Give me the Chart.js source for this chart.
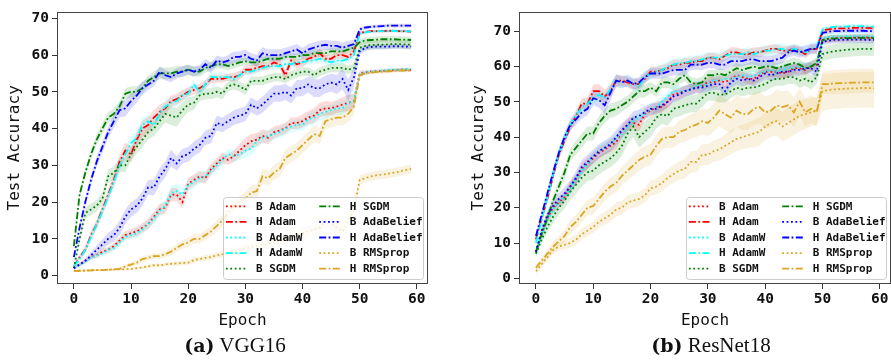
<!DOCTYPE html>
<html>
<head>
<meta charset="utf-8">
<script src="https://cdn.jsdelivr.net/npm/chart.js@4.4.0/dist/chart.umd.min.js"></script>
<style>
  html, body { margin: 0; padding: 0; background: #fff; }
  #wrap { position: relative; width: 891px; height: 361px; overflow: hidden; }
  canvas { position: absolute; top: 0; }
  .cap { position: absolute; top: 335px; font-family: "Liberation Serif", serif; font-size: 21px;
         line-height: 1; white-space: nowrap; transform: translateX(-50%); color: #111; }
  .cap b { font-family: "DejaVu Serif", serif; font-size: 19px; }
</style>
</head>
<body>
<div id="wrap">
  <canvas id="vgg" width="445" height="335" style="left:0"></canvas>
  <canvas id="resnet" width="446" height="335" style="left:445px"></canvas>
  <div class="cap" style="left:235px"><b>(a)</b> VGG16</div>
  <div class="cap" style="left:711px"><b>(b)</b> ResNet18</div>
</div>
<script>
// Series / ticks
const epochs = [0,1,2,3,4,5,6,7,8,9,10,11,12,13,14,15,16,17,18,19,20,21,22,23,24,25,26,27,28,29,
  30,31,32,33,34,35,36,37,38,39,40,41,42,43,44,45,46,47,48,49,50,51,52,53,54,55,56,57,58,59];
const xTicks = [0, 10, 20, 30, 40, 50, 60];
const yTicks = [0, 10, 20, 30, 40, 50, 60, 70];
const seriesLabels = ['B Adam', 'H Adam', 'B AdamW', 'H AdamW', 'B SGDM',
  'H SGDM', 'B AdaBelief', 'H AdaBelief', 'B RMSprop', 'H RMSprop'];
const seriesColors = ['#ff0000', '#ff0000', '#00ffff', '#00ffff', '#008000',
  '#008000', '#0000ff', '#0000ff', '#daa520', '#daa520'];

// VGG16 test accuracy (mean)
const vggBAdam = [2,3,4,5,5.5,6.5,7,8,9.5,11, 11.5,12,13,14,16,18,18.5,22,22,20,
  25,26,27,26.5,29,30.5,32,31.5,32.5,34, 35.5,36.5,37,38,37.5,39,39.5,40,41.5,41.5,
  42,43,43.5,45,45.5,45.5,46,46.5,47,47.5, 55,55.3,55.5,55.6,55.7,55.8,55.9,56,56,56];
const vggHAdam = [2.5,5,7,11,14,18,22,26,31,34, 33,37,40,41,43,44.5,45.5,47.5,48,49,
  50,50.5,51,52,53.5,53.5,53.5,54,54,54.5, 56,56,56.5,57,57,58,57.5,54.5,58.5,57.5,
  58,59,59.5,60.5,59,59,60,60,59.5,61, 66,66.3,66.5,66.5,66.5,66.6,66.6,66.5,66.5,66.4];
const vggBAdamW = [2,2.8,3.8,4.8,5.5,6,7,7.5,9,10.5, 11,11.5,12.5,14,15.5,17.5,19,22.5,23,22,
  24.5,25.5,26.5,27,28.5,30,31.5,33,32.5,33, 34,34.5,36.5,37.5,38,38.5,39,40,40.5,41,
  41,42.5,43,44,44.5,45,45.5,45.5,47,47.5, 54.8,55.2,55.5,55.6,55.8,55.9,56,56,56.1,56.2];
const vggHAdamW = [2.5,4.5,7,10.5,14,17.5,21.5,25.5,30,33, 36,37.5,41,42,41,44,46,47,47.5,49,
  49.5,52,50,52,54,54,54,54,53.5,54.5, 55.5,55.5,56,56.5,57,57,57,57.5,57.5,58,
  58,58.5,58.5,59,58.5,58,58.5,58.5,59,60, 65.8,66.2,66.4,66.5,66.5,66.5,66.6,66.5,66.5,66.4];
const vggBSGDM = [2,10,17,18,19,21,27,28,30,30, 33,35,37,39,40,42,44,43.5,43,45,
  46.5,47,49,49.5,49.5,50,49.5,51.5,52,51.5, 50.5,53,53,53,53.5,54,54,53.5,54.5,55,
  55.5,55.5,54.5,55.5,56,56.5,56.5,56.5,56,56.5, 62,62.5,62.7,62.8,62.8,62.9,63,63,62.9,62.8];
const vggHSGDM = [8,22,28,33,37,40,43,44,46,49.5, 50,50,51,53,54,55,55,55,55.5,55.5,
  56,55.5,55.5,56.5,57,57.5,57.5,57,57.5,58, 58.3,58,58,58.5,59,59,59,59.5,59.5,59.5,
  60,60,60.5,60.5,60.5,61,61,61,61.5,62, 63.5,64,64.1,64.2,64.3,64.3,64.3,64.2,64.2,64.1];
const vggBAdaBelief = [2,3,4,5.5,7,8.5,10,11,13,16, 18,19,21,24,24,27,29,32,30.5,32.5,
  33,34.5,35.5,37.5,38,41.5,41,42,43,43.5, 44,46.5,45.5,46.5,48,49.5,49.5,50,49,51,
  51,52,51,51,52,52.5,52,53.5,50.5,54, 61,62,62.2,62.3,62.3,62.3,62.4,62.4,62.3,62.3];
const vggHAdaBelief = [5,13,20,26,31,35,39,42,45,45.5, 47.5,49,51,52,53,55.5,54.5,54,55,55.5,
  56,55.5,56,57.5,56.5,58.5,58,58.5,59.5,59.5, 60,59,58.5,60.5,60,60,60,60.5,61,61.5,
  60.5,61.5,62,62.5,62.8,62.5,62.5,62,62.5,63, 67,67.5,67.7,67.8,67.9,68,68,68,68,68];
const vggBRMSprop = [1.3,1.3,1.4,1.4,1.5,1.5,1.6,1.6,1.7,1.7, 1.8,2,2.2,2.5,2.8,2.8,3,3.2,3.3,3.4,
  3.5,4.2,4.5,4.8,5,5.5,5.8,6.2,6.5,7, 7.5,7.8,8,8.5,8.5,9,9.5,10,10.5,11,
  11.5,12,12.5,13,15,14,13,12,15,18, 26,26.5,27,27.3,27.5,27.7,28,28.3,28.7,29];
const vggHRMSprop = [1.2,1.3,1.3,1.4,1.5,1.5,1.6,1.7,1.8,2.5, 3,3.5,4.5,4.8,5.3,5.3,5.8,6.5,7.5,8.5,
  9,10,10,11,12,13.5,15,17,19,20, 21,22.5,23,27,26.5,28,29,32,33,34,
  35.5,37,38.5,38,42,42.5,43,43,44,46, 54.5,55,55.2,55.4,55.5,55.6,55.7,55.8,55.8,55.8];

// VGG16 spread (std band half width)
const vggBAdamStd = [0.3,0.4,0.5,0.6,0.7,0.8,0.8,0.9,1,1.1, 1.2,1.3,1.3,1.4,1.5,1.5,1.6,1.8,1.8,1.8,
  1.6,1.5,1.5,1.6,1.5,1.5,1.5,1.4,1.6,1.8, 2,2,1.8,1.8,1.8,1.6,1.5,1.5,1.6,1.6,
  1.8,1.8,2,2,2,1.8,1.8,2,2.2,2, 0.8,0.6,0.5,0.5,0.5,0.5,0.5,0.5,0.5,0.5];
const vggHAdamStd = [0.3,0.8,1,1.2,1.3,1.5,1.5,1.8,2,2.2, 2.2,2,2.2,2.2,2,2,1.8,1.5,1.5,1.5,
  1.3,1.2,1.2,1.2,1.2,1,1,1,1.2,1.2, 1.2,1.2,1.2,1.2,1,1,1.2,1.5,1.2,1.2,
  1.2,1,1,1.2,1,1,1,1,1.2,1, 0.5,0.4,0.4,0.4,0.4,0.4,0.4,0.4,0.4,0.4];
const vggBAdamWStd = [0.3,0.4,0.5,0.6,0.7,0.8,0.9,1,1,1.1, 1.2,1.3,1.4,1.4,1.5,1.6,1.7,1.8,2,1.8,
  1.6,1.6,1.5,1.5,1.5,1.6,1.5,1.5,1.5,1.6, 1.8,1.8,1.8,1.6,1.6,1.6,1.5,1.5,1.6,1.6,
  1.6,1.8,1.8,1.8,1.8,1.6,1.8,1.8,2,2, 0.8,0.6,0.5,0.5,0.5,0.5,0.5,0.5,0.5,0.5];
const vggHAdamWStd = [0.3,0.8,1,1.2,1.3,1.5,1.6,1.8,1.8,2, 2,2,1.8,1.8,1.6,1.5,1.5,1.5,1.4,1.3,
  1.3,1.2,1.2,1.2,1.2,1.2,1.1,1,1,1, 1,1,1,1,1,1,1,1,1,1,
  1,1,1,1,1,1,1,1,1,1, 0.5,0.4,0.4,0.4,0.4,0.4,0.4,0.4,0.4,0.4];
const vggBSGDMStd = [0.3,1,1.5,1.6,1.6,1.6,1.8,1.8,1.8,1.8, 1.8,1.8,2,2,2,2.2,2.4,2.5,2.5,2.2,
  2,1.8,1.6,1.5,1.5,1.5,1.5,1.4,1.4,1.4, 1.4,1.2,1.2,1.2,1.2,1.2,1.2,1.2,1.2,1.2,
  1.2,1.2,1.2,1.2,1.2,1.2,1.2,1.2,1.2,1.2, 1.2,1.2,1.2,1.2,1.2,1.2,1.2,1.2,1.2,1.2];
const vggHSGDMStd = [0.5,1,1.2,1.3,1.4,1.5,1.5,1.5,1.5,1.5, 1.5,1.5,1.5,1.5,1.5,1.6,1.6,1.6,1.5,1.5,
  1.4,1.4,1.3,1.3,1.2,1.2,1.2,1.2,1.1,1.1, 1,1,1,1,1,1,1,1,1,1,
  1,1,1,1,1,1,1,1,1,1, 0.9,0.9,0.9,0.9,0.9,0.9,0.9,0.9,0.9,0.9];
const vggBAdaBeliefStd = [0.3,0.5,0.7,1,1.2,1.4,1.6,1.8,2,2, 2,2,2,2,2.2,2.2,2.2,2.2,2,2,
  2,2,2,2,2,2,2,2,2,2, 2,2,2,2.2,2.2,2.2,2.2,2.2,2.2,2.2,
  2.2,2.2,2.4,2.4,2.4,2.5,2.6,2.8,3,2.6, 1,0.8,0.7,0.7,0.7,0.7,0.7,0.7,0.7,0.7];
const vggHAdaBeliefStd = [0.5,1,1.2,1.3,1.4,1.5,1.6,1.8,2,2.2, 2.2,2,1.8,1.6,1.5,1.5,1.4,1.4,1.4,1.4,
  1.3,1.3,1.3,1.4,1.4,1.4,1.4,1.5,1.5,1.5, 1.5,1.5,1.6,1.6,1.6,1.6,1.6,1.5,1.5,1.5,
  1.5,1.5,1.5,1.4,1.4,1.4,1.4,1.4,1.4,1.2, 0.6,0.5,0.5,0.5,0.5,0.5,0.5,0.5,0.5,0.5];
const vggBRMSpropStd = [0.2,0.2,0.2,0.2,0.2,0.2,0.2,0.2,0.2,0.3, 0.3,0.4,0.4,0.5,0.5,0.5,0.5,0.5,0.6,0.6,
  0.6,0.7,0.7,0.8,0.8,0.8,0.9,0.9,1,1, 1,1,1.1,1.1,1.2,1.2,1.2,1.3,1.4,1.4,
  1.5,1.5,1.6,1.6,1.8,1.8,1.8,1.8,2,2, 1.2,1.2,1.2,1.2,1.2,1.2,1.2,1.2,1.2,1.2];
const vggHRMSpropStd = [0.2,0.2,0.2,0.2,0.2,0.2,0.2,0.3,0.3,0.5, 0.6,0.7,0.8,0.8,0.8,0.8,0.9,1,1,1.2,
  1.2,1.3,1.3,1.4,1.4,1.5,1.5,1.6,1.6,1.8, 1.8,2,2,2,2,2,2.2,2.2,2.2,2.2,
  2.2,2.2,2.2,2.2,2.2,2.2,2.2,2.2,2.2,2.2, 0.6,0.5,0.5,0.5,0.5,0.5,0.5,0.5,0.5,0.5];

// ResNet18 test accuracy (mean)
const rnBAdam = [7.5,13,17,20,21.5,23,26,28,31,32.5, 34,35.5,36.5,37.5,38.5,41.5,43.5,44,43.5,46.5,
  47.5,48.5,48.5,50,52,52.5,53,53.5,54,54.5, 55.5,55.5,56,55.5,56.5,57.5,57,56.5,56.5,57.5,
  58.5,58.5,58.5,58,58.5,59.5,59.5,59,60,60.5, 67.5,67.8,68,68,68.1,68.1,68.2,68.2,68.2,68.1];
const rnHAdam = [11,17,22.5,29,35,39,43,46,49.5,49.5, 53,53,51.5,53,56,56,55.5,55,55,56.5,
  58.5,58.5,59,59.5,60.5,60.5,61,61,61.5,61.5, 62.5,62.5,62,63,64,64,63.5,63.5,64,64,
  64.5,65,65,64.5,64.5,65,64.5,63.5,65,65, 70.2,70.5,70.7,70.8,70.8,70.9,70.9,70.9,70.9,70.8];
const rnBAdamW = [7,12.5,16.5,19.5,21.5,23,25.5,28,30.5,32.5, 34.5,36,37,38,39.5,41,43,44.5,45.5,46.5,
  48,48.5,50,51.5,53,53,53,53.5,54.5,54.5, 55,56,56,56.5,56.5,57,57.5,57,57.5,58,
  58.5,59,58.5,59,59.5,59.5,60,59.5,60,61, 68,68.3,68.5,68.5,68.6,68.6,68.6,68.6,68.5,68.5];
const rnHAdamW = [10,16.5,23,29.5,35.5,39.5,43.5,46,48.5,49.5, 51,52,51,53.5,56,55.5,56,55,54.5,57,
  58,58.5,59,60,60.5,61,61,61.5,61.5,62, 62.5,62.5,62.5,63,63.5,63.5,63.5,64,63.5,64,
  64.5,64.5,65,65,64.5,65,64.5,64,65,65.5, 70.5,71,71.2,71.3,71.3,71.4,71.4,71.4,71.3,71.3];
const rnBSGDM = [7,11,14.5,17.5,20,22,24.5,26.5,28.5,30, 30.5,32,33,34,35.5,37.5,41,43,40,41.5,
  43,45.5,46.5,46,48,48.5,49,49.5,49.5,51, 52.5,52.5,52,52,53,54,53.5,54,54,54.5,
  55,56,56.5,56.5,57,57,56,56.5,55.5,57, 63.5,64,64.3,64.5,64.7,64.8,64.9,65,65,65];
const rnHSGDM = [7.5,12.5,17,22,26,30,35,37,39,41, 41,44,46,47.5,48,49,50,51.5,53,53,
  54,53,55.5,55.5,55,56.5,57.5,55.5,55,55.5, 57.5,57.5,58,57.5,58.5,59.5,59,59.5,60,59.5,
  60,60,59.5,60,60.5,61,60.5,59.5,60,61, 67.5,67.8,67.9,68,68,68,68.1,68.1,68.1,68];
const rnBAdaBelief = [7.5,13.5,18,20.5,22.5,24,26,28.5,31.5,33, 34.5,36,37,38,40,42,43.5,45.5,46,47,
  48,48,49,50,51.5,52,53,53.5,54,54, 54.5,55,55,53,55.5,56.5,56,56.5,56,57,
  58,57.5,58,58.5,58.5,59,59,59.5,59.5,58.5, 67,67.3,67.5,67.5,67.6,67.6,67.6,67.6,67.5,67.5];
const rnHAdaBelief = [12,18,24,30,35.5,40,43.5,45,47,48, 51,50.5,49,52.5,56,55.5,56,55,55.5,57,
  58,58,58,58.5,59,59,59,60.5,60.5,60.5, 61,61,60.5,60.5,61.5,61.5,61.5,62,62,61.5,
  61.5,61.5,62,62.5,64,64.5,64,64.5,65,65, 69.5,69.8,70,70,70.1,70.1,70.1,70.1,70,70];
const rnBRMSprop = [2,4,6,8,9,9.5,10,11,12.5,13.5, 14.5,16,17,18,19.5,20,21.5,22,22.5,23.5,
  25.5,26,27,28.5,29.5,30.5,31,33,33,35, 35,36,36.5,37.5,38.5,39.5,40,40.5,41,41.5,
  43,44,44.5,43,44,45,46,46.5,47,47.5, 53,53.3,53.5,53.6,53.7,53.8,53.8,53.9,53.9,53.8];
const rnHRMSprop = [3,5,7,9,10.5,12,14.5,16,18,20, 20.5,22.5,24.5,26,27,29,30.5,32,33.5,34.5,
  35,37.5,39.5,40,40,41.5,42,43,43.5,44.5, 44,45.5,47.5,46.5,45.5,47.5,46.5,46.5,48,48.5,
  47,47.5,49,48.5,49,47,50,47,48,47, 55,55,55.2,55.3,55.3,55.4,55.4,55.5,55.5,55.5];

// ResNet18 spread (std band half width)
const rnBAdamStd = [1,1.2,1.3,1.4,1.5,1.5,1.5,1.5,1.6,1.6, 1.6,1.6,1.6,1.8,1.8,1.8,1.8,1.8,1.8,1.6,
  1.6,1.6,1.6,1.6,1.6,1.5,1.5,1.5,1.5,1.5, 1.5,1.5,1.5,1.5,1.5,1.5,1.5,1.5,1.5,1.5,
  1.5,1.5,1.5,1.5,1.5,1.5,1.5,1.5,1.5,1.5, 1,1,1,1,1,1,1,1,1,1];
const rnHAdamStd = [1,1.2,1.3,1.4,1.5,1.5,1.6,1.6,1.6,1.8, 1.8,2,2,1.8,1.6,1.5,1.5,1.5,1.5,1.4,
  1.4,1.4,1.4,1.4,1.4,1.4,1.4,1.4,1.4,1.4, 1.4,1.4,1.4,1.4,1.4,1.4,1.4,1.4,1.4,1.4,
  1.2,1.2,1.2,1.2,1.2,1.2,1.2,1.2,1.2,1.2, 0.6,0.6,0.6,0.6,0.6,0.6,0.6,0.6,0.6,0.6];
const rnBAdamWStd = [1,1.2,1.3,1.4,1.5,1.5,1.6,1.6,1.6,1.6, 1.6,1.6,1.8,1.8,1.8,1.8,1.8,1.6,1.6,1.6,
  1.6,1.6,1.6,1.6,1.5,1.5,1.5,1.5,1.5,1.5, 1.5,1.5,1.5,1.5,1.5,1.5,1.5,1.5,1.5,1.5,
  1.5,1.5,1.5,1.5,1.5,1.5,1.5,1.5,1.5,1.5, 1,1,1,1,1,1,1,1,1,1];
const rnHAdamWStd = [1,1.2,1.4,1.5,1.6,1.6,1.6,1.6,1.8,1.8, 1.8,1.8,1.8,1.8,1.8,1.8,1.8,1.8,1.8,1.8,
  1.6,1.6,1.6,1.6,1.6,1.6,1.6,1.6,1.6,1.6, 1.6,1.5,1.5,1.5,1.5,1.5,1.5,1.5,1.5,1.5,
  1.5,1.5,1.5,1.5,1.5,1.5,1.5,1.5,1.5,1.5, 0.6,0.6,0.6,0.6,0.6,0.6,0.6,0.6,0.6,0.6];
const rnBSGDMStd = [1,1.2,1.5,1.8,2,2.2,2.4,2.5,2.5,2.5, 2.5,2.5,2.5,2.5,2.6,2.8,3,3,3,3,
  3,3,2.8,2.8,2.6,2.6,2.5,2.5,2.5,2.4, 2.2,2.2,2.2,2.2,2,2,2,2,2,2,
  2,2,2,2,2,2,2,2,2,2, 2,2,2,2,2,2,2,2,2,2];
const rnHSGDMStd = [1,1.2,1.4,1.5,1.6,1.8,1.8,2,2,2, 2,2,2,2,2,1.8,1.8,1.8,1.8,1.8,
  1.6,1.6,1.6,1.6,1.6,1.6,1.6,1.6,1.6,1.6, 1.5,1.5,1.5,1.5,1.5,1.5,1.5,1.5,1.5,1.5,
  1.5,1.5,1.5,1.5,1.5,1.5,1.5,1.5,1.5,1.5, 1,1,1,1,1,1,1,1,1,1];
const rnBAdaBeliefStd = [1,1.2,1.4,1.5,1.6,1.8,1.8,2,2,2, 2,2,2,2,2,2,1.8,1.8,1.8,1.8,
  1.6,1.6,1.6,1.6,1.6,1.6,1.6,1.6,1.6,1.6, 1.6,1.6,1.6,1.6,1.6,1.6,1.6,1.6,1.6,1.6,
  1.6,1.6,1.6,1.6,1.6,1.6,1.6,1.6,1.6,1.6, 1,1,1,1,1,1,1,1,1,1];
const rnHAdaBeliefStd = [1,1.2,1.3,1.4,1.5,1.5,1.6,1.6,1.8,1.8, 2,2.2,2.5,2.2,1.8,1.6,1.5,1.5,1.5,1.5,
  1.5,1.5,1.5,1.5,1.5,1.5,1.5,1.5,1.5,1.5, 1.5,1.5,1.5,1.5,1.5,1.5,1.5,1.5,1.5,1.5,
  1.5,1.5,1.5,1.5,1.5,1.5,1.5,1.5,1.5,1.5, 0.6,0.6,0.6,0.6,0.6,0.6,0.6,0.6,0.6,0.6];
const rnBRMSpropStd = [0.8,1,1,1.2,1.2,1.3,1.4,1.5,1.6,1.6, 1.6,1.8,1.8,2,2,2,2,2,2,2,
  2.2,2.2,2.4,2.4,2.5,2.6,2.8,3,3,3, 3,3,3.2,3.2,3.4,3.5,3.5,3.6,3.8,4,
  4,4,4,4.2,4.4,4.5,4.4,4.2,4,4, 5.5,5.5,5.5,5.5,5.5,5.5,5.5,5.5,5.5,5.5];
const rnHRMSpropStd = [0.8,1,1.2,1.4,1.6,1.8,2,2,2.2,2.2, 2.4,2.4,2.5,2.5,2.6,2.6,2.8,2.8,3,3,
  3,3,3,3,3,3.2,3.4,3.5,3.5,3.6, 3.8,4,4.5,4.5,4.5,4.5,4.5,4.5,4.5,4.5,
  4.5,4.5,4.5,4.5,4.2,4.2,4,4,4,4, 2.8,2.8,3,3,3,3,3,3,3,3];

const monoFont = 'DejaVu Sans Mono';
const lineW = 1.8;

function hexToRgba(hex, a) {
    const r = parseInt(hex.substr(1, 2), 16);
    const g = parseInt(hex.substr(3, 2), 16);
    const b = parseInt(hex.substr(5, 2), 16);
    return `rgba(${r},${g},${b},${a})`;
}

function buildDatasets(means, stds) {
    const lines = [], bands = [];
    means.forEach((m, i) => {
        const dotted = seriesLabels[i].startsWith('B');
        lines.push({
            label: seriesLabels[i],
            data: epochs.map((e, k) => ({ x: e, y: m[k] })),
            borderColor: seriesColors[i],
            borderWidth: lineW,
            borderDash: dotted ? [1.8, 2.6] : [7, 2.4, 1.8, 2.4],
            pointRadius: 0,
            fill: false,
            order: 20 - i,
            inLegend: true
        });
    });
    means.forEach((m, i) => {
        const lowIdx = means.length + bands.length;
        bands.push({
            data: epochs.map((e, k) => ({ x: e, y: m[k] - stds[i][k] })),
            borderWidth: 0, pointRadius: 0, fill: false, order: 40
        });
        bands.push({
            data: epochs.map((e, k) => ({ x: e, y: m[k] + stds[i][k] })),
            borderWidth: 0, pointRadius: 0,
            fill: lowIdx,
            backgroundColor: hexToRgba(seriesColors[i], 0.14),
            order: 40
        });
    });
    return lines.concat(bands);
}

// matplotlib-like frame round the plot area
const framePlugin = {
    id: 'frame',
    afterDatasetsDraw(chart) {
        const { ctx, chartArea: a } = chart;
        ctx.save();
        ctx.strokeStyle = '#444';
        ctx.lineWidth = 1;
        const l = Math.round(a.left) + 0.5, t = Math.round(a.top) + 0.5;
        const r = Math.round(a.right) - 0.5, b = Math.round(a.bottom) - 0.5;
        ctx.strokeRect(l, t, r - l, b - t);
        ctx.restore();
    }
};

// two-column legend in the lower right corner
const legendPlugin = {
    id: 'boxLegend',
    afterDraw(chart) {
        const { ctx, chartArea: a } = chart;
        const w = 200, h = 82;
        const x = a.right - 5.5 - w, y = a.bottom - 4.7 - h;
        ctx.save();
        ctx.beginPath();
        ctx.roundRect(Math.round(x) + 0.5, Math.round(y) + 0.5, w, h, 3);
        ctx.fillStyle = 'rgba(255,255,255,0.8)';
        ctx.fill();
        ctx.strokeStyle = '#cccccc';
        ctx.lineWidth = 1;
        ctx.stroke();
        ctx.font = `bold 11px "${monoFont}"`;
        ctx.textBaseline = 'middle';
        ctx.textAlign = 'left';
        chart.data.datasets.filter(d => d.inLegend).forEach((d, i) => {
            const col = Math.floor(i / 5), row = i % 5;
            const ly = y + 9 + row * 15.6;
            const lx = x + 3.4 + col * 93.3;
            ctx.beginPath();
            ctx.setLineDash(d.borderDash);
            ctx.strokeStyle = d.borderColor;
            ctx.lineWidth = lineW;
            ctx.moveTo(lx, ly);
            ctx.lineTo(lx + 21.6, ly);
            ctx.stroke();
            ctx.setLineDash([]);
            ctx.fillStyle = '#111';
            ctx.fillText(d.label, x + 33.4 + col * 93.8, ly + 0.5);
        });
        ctx.restore();
    }
};

function makeChart(id, datasets, opts) {
    return new Chart(document.getElementById(id), {
        type: 'line',
        data: { datasets },
        plugins: [framePlugin, legendPlugin],
        options: {
            responsive: false,
            animation: false,
            events: [],
            layout: { padding: { left: 0, right: opts.padRight, top: opts.padTop, bottom: 0 } },
            plugins: { legend: { display: false }, tooltip: { enabled: false } },
            scales: {
                x: {
                    type: 'linear', min: -2.95, max: 61.95,
                    afterBuildTicks: s => { s.ticks = xTicks.map(v => ({ value: v })); },
                    afterFit: s => { s.height = 51; },
                    grid: { drawOnChartArea: false, drawTicks: true, tickLength: 5, color: '#333' },
                    border: { display: false },
                    ticks: { font: { family: monoFont, size: 14.5, weight: 'bold' }, color: '#111',
                        padding: 2, maxRotation: 0, autoSkip: false },
                    title: { display: true, text: 'Epoch', color: '#111',
                        font: { family: monoFont, size: 16 }, padding: { top: 0, bottom: 5 } }
                },
                y: {
                    type: 'linear', min: opts.yMin, max: opts.yMax,
                    afterBuildTicks: s => { s.ticks = yTicks.map(v => ({ value: v })); },
                    afterFit: s => { s.width = opts.yWidth; },
                    grid: { drawOnChartArea: false, drawTicks: true, tickLength: 5, color: '#333' },
                    border: { display: false },
                    ticks: { font: { family: monoFont, size: 14.5, weight: 'bold' }, color: '#111', padding: 3 },
                    title: { display: true, text: 'Test Accuracy', color: '#111',
                        font: { family: monoFont, size: 16 }, padding: { top: opts.titlePad, bottom: 0 } }
                }
            }
        }
    });
}

makeChart('vgg', buildDatasets(
    [vggBAdam, vggHAdam, vggBAdamW, vggHAdamW, vggBSGDM, vggHSGDM, vggBAdaBelief, vggHAdaBelief, vggBRMSprop, vggHRMSprop],
    [vggBAdamStd, vggHAdamStd, vggBAdamWStd, vggHAdamWStd, vggBSGDMStd, vggHSGDMStd, vggBAdaBeliefStd, vggHAdaBeliefStd, vggBRMSpropStd, vggHRMSpropStd]),
    { padRight: 17, padTop: 6, yMin: -2.3, yMax: 71.8, yWidth: 57, titlePad: 5.4 });

makeChart('resnet', buildDatasets(
    [rnBAdam, rnHAdam, rnBAdamW, rnHAdamW, rnBSGDM, rnHSGDM, rnBAdaBelief, rnHAdaBelief, rnBRMSprop, rnHRMSprop],
    [rnBAdamStd, rnHAdamStd, rnBAdamWStd, rnHAdamWStd, rnBSGDMStd, rnHSGDMStd, rnBAdaBeliefStd, rnHAdaBeliefStd, rnBRMSpropStd, rnHRMSpropStd]),
    { padRight: 0, padTop: 7, yMin: -1.6, yMax: 75.5, yWidth: 74, titlePad: 24.4 });
</script>
</body>
</html>
